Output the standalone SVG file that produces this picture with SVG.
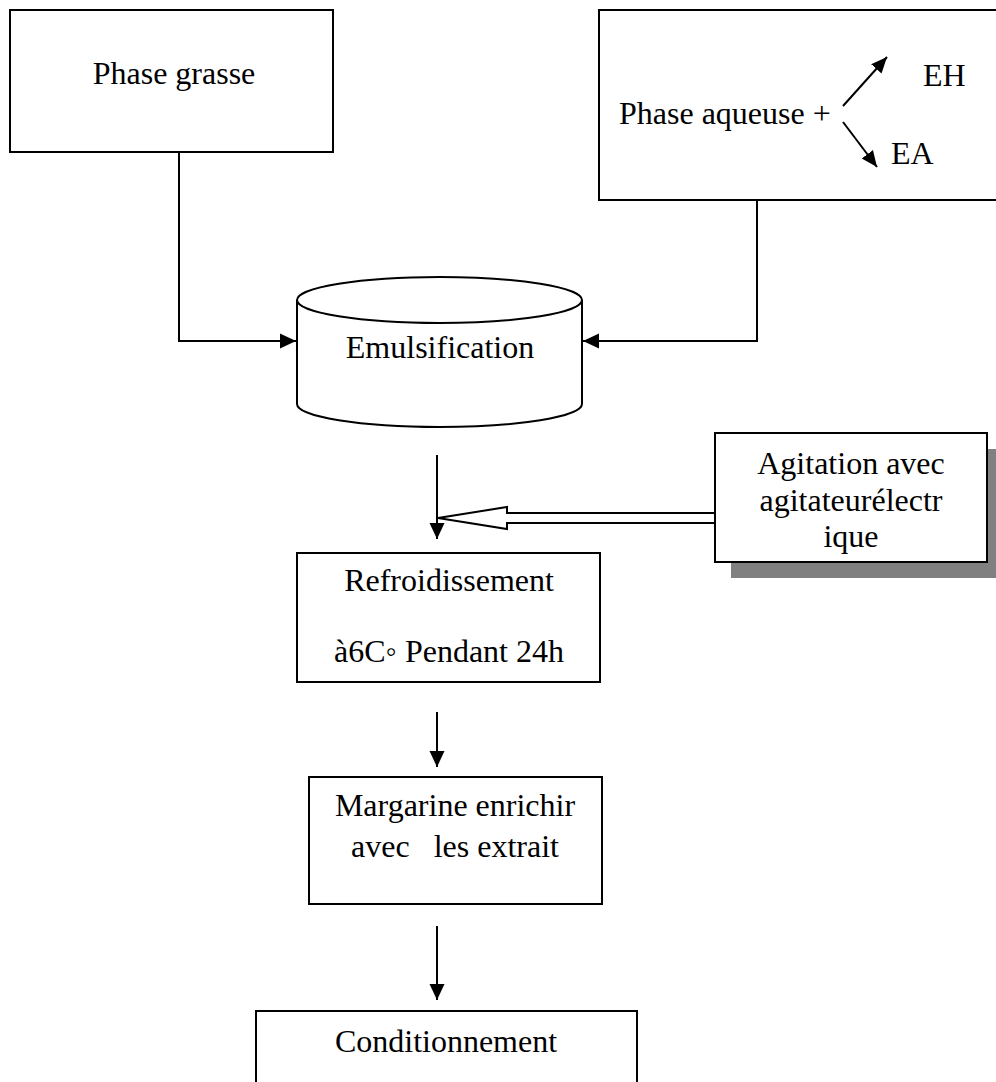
<svg xmlns="http://www.w3.org/2000/svg" width="996" height="1082" viewBox="0 0 996 1082">
  <defs>
    <marker id="ah" markerUnits="userSpaceOnUse" markerWidth="17" markerHeight="17" viewBox="0 0 17 17" refX="16" refY="8.5" orient="auto">
      <path d="M0,1 L16,8.5 L0,16 Z" fill="#000"/>
    </marker>
    <marker id="ahs" markerUnits="userSpaceOnUse" markerWidth="17" markerHeight="17" viewBox="0 0 17 17" refX="16" refY="8.5" orient="auto">
      <path d="M0,1.5 L16,8.5 L0,15.5 Z" fill="#000"/>
    </marker>
  </defs>
  <style>
    .box { fill: #fff; stroke: #000; stroke-width: 2; }
    .ln { fill: none; stroke: #000; stroke-width: 2; }
    .t { font-family: "Liberation Serif", "Times New Roman", serif; font-size: 32px; fill: #000; }
    .c { text-anchor: middle; }
  </style>
  <rect width="996" height="1082" fill="#fff"/>

  <g id="connectors">
    <polyline class="ln" points="179,152 179,341 296,341" marker-end="url(#ah)"/>
    <polyline class="ln" points="757,200 757,341 583,341" marker-end="url(#ah)"/>
    <line class="ln" x1="437" y1="455" x2="437" y2="539" marker-end="url(#ah)"/>
    <path d="M715,513 L507,513 L507,507 L438,518 L507,529 L507,523 L715,523" fill="#fff" stroke="#000" stroke-width="2" stroke-linejoin="miter"/>
    <line class="ln" x1="437" y1="712" x2="437" y2="767" marker-end="url(#ah)"/>
    <line class="ln" x1="437" y1="926" x2="437" y2="1000" marker-end="url(#ah)"/>
  </g>

  <g id="phase-grasse">
    <rect class="box" x="10" y="10" width="323" height="142"/>
    <text class="t c" x="174" y="84">Phase grasse</text>
  </g>

  <g id="phase-aqueuse">
    <rect class="box" x="599" y="10" width="410" height="190"/>
    <text class="t" x="619" y="124">Phase aqueuse +</text>
    <line class="ln" x1="843" y1="106" x2="887" y2="57" stroke-width="2.5" marker-end="url(#ahs)"/>
    <line class="ln" x1="843" y1="122" x2="877" y2="167" stroke-width="2.5" marker-end="url(#ahs)"/>
    <text class="t" x="923" y="86">EH</text>
    <text class="t" x="891" y="164">EA</text>
  </g>

  <g id="emulsification">
    <path class="box" d="M297,300 L297,404 A142.5,23 0 0 0 582,404 L582,300"/>
    <ellipse class="box" cx="439.5" cy="300" rx="142.5" ry="23"/>
    <text class="t c" x="440" y="358">Emulsification</text>
  </g>

  <g id="agitation">
    <rect x="731" y="449" width="272" height="129" fill="#808080"/>
    <rect class="box" x="715" y="433" width="272" height="129"/>
    <text class="t c" x="851" y="474">Agitation avec</text>
    <text class="t c" x="851" y="511">agitateurélectr</text>
    <text class="t c" x="851" y="547">ique</text>
  </g>

  <g id="refroidissement">
    <rect class="box" x="297" y="553" width="303" height="129"/>
    <text class="t c" x="449" y="591">Refroidissement</text>
    <text class="t c" x="449" y="662">à6C◦ Pendant 24h</text>
  </g>

  <g id="margarine">
    <rect class="box" x="309" y="777" width="293" height="127"/>
    <text class="t c" x="455" y="816">Margarine enrichir</text>
    <text class="t c" x="455" y="857" xml:space="preserve">avec   les extrait</text>
  </g>

  <g id="conditionnement">
    <rect class="box" x="256" y="1011" width="381" height="100"/>
    <text class="t c" x="446" y="1052">Conditionnement</text>
  </g>
</svg>
